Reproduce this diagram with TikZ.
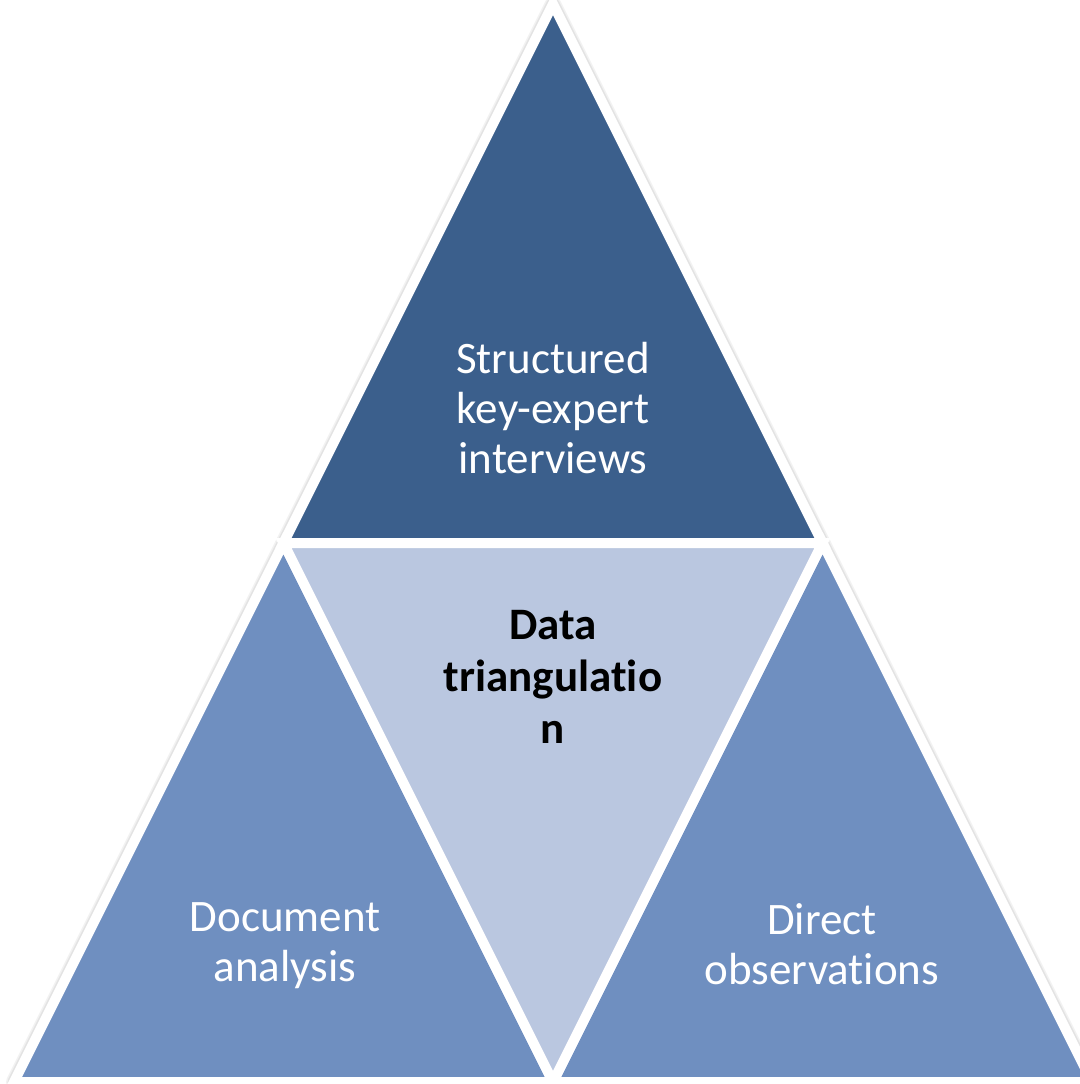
\documentclass[tikz,border=0pt]{standalone}
\usepackage{fontspec}
\setmainfont{Carlito}[Ligatures={NoCommon}]
\definecolor{topblue}{HTML}{3B5F8C}
\definecolor{sideblue}{HTML}{6F8FC0}
\definecolor{midblue}{HTML}{BAC7E0}
\begin{document}
\begin{tikzpicture}[x=0.5pt,y=-0.5pt,
  halo/.style={draw=black!5,line width=8pt,line join=round},
  halob/.style={draw=black!11,line width=6.5pt,line join=round},
  tri/.style={draw=white,line width=5pt,line join=miter},
  lbl/.style={text=white,align=center,font=\fontsize{22.5}{25}\selectfont},
  clbl/.style={text=black,align=center,font=\bfseries\fontsize{22.5}{26}\selectfont}]
\useasboundingbox (0,0) rectangle (1080,1084);
\clip (0,0) rectangle (1080,1084);
\fill[white] (0,0) rectangle (1080,1084);
% geometry
\coordinate (A) at (553,4);
\coordinate (BL) at (14,1082);
\coordinate (BR) at (1092,1082);
\coordinate (ML) at (283.5,543);
\coordinate (MR) at (822.5,543);
\coordinate (MB) at (553,1082);
% shadows
\foreach \s in {halo,halob}{
  \draw[\s] (A) -- (MR) -- (ML) -- cycle;
  \draw[\s] (ML) -- (MB) -- (BL) -- cycle;
  \draw[\s] (MR) -- (BR) -- (MB) -- cycle;
  \draw[\s] (ML) -- (MR) -- (MB) -- cycle;
}
% triangles
\filldraw[tri,fill=topblue] (A) -- (MR) -- (ML) -- cycle;
\filldraw[tri,fill=sideblue] (ML) -- (MB) -- (BL) -- cycle;
\filldraw[tri,fill=sideblue] (MR) -- (BR) -- (MB) -- cycle;
\filldraw[tri,fill=midblue] (ML) -- (MR) -- (MB) -- cycle;
% labels
\node[lbl] (ttop) at (553,408) {Structured\\key-expert\\interviews};
\node[lbl] (tleft) at (285,946) {Document\\analysis};
\node[lbl] (tright) at (822,944) {Direct\\observations};
\node[clbl] (tmid) at (553,677) {Data\\triangulatio\\n};
\end{tikzpicture}
\end{document}
